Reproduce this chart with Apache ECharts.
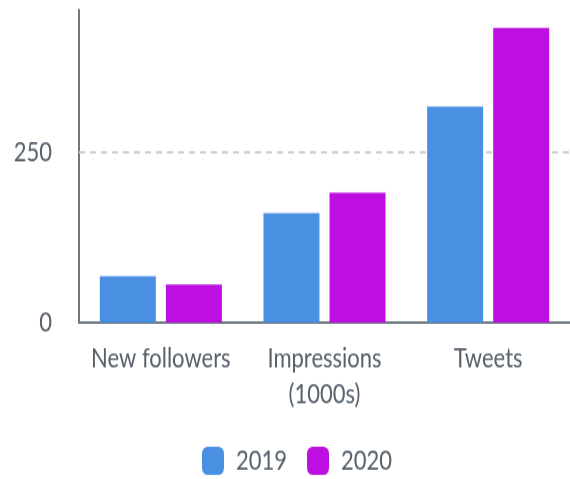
<!DOCTYPE html>
<html>
<head>
<meta charset="utf-8">
<script src="https://cdn.jsdelivr.net/npm/echarts@6/dist/echarts.min.js"></script>
<style>
html,body{margin:0;padding:0;background:#fff;}
body{width:570px;height:479px;}
#c{width:570px;height:374px;transform:scale(1,1.28);transform-origin:0 0;}
</style>
</head>
<body>
<div id="c"></div>
<script>
const categories = ['New followers', 'Impressions\n(1000s)', 'Tweets'];
const seriesNames = ['2019', '2020'];
const values2019 = [68, 160, 316];
const values2020 = [56, 190, 431];
const yTicks = [0, 250];

const textColor = '#56606b';
const axisColor = '#6e7880';
const chart = echarts.init(document.getElementById('c'), null, {renderer: 'canvas'});
chart.setOption({
  animation: false,
  color: ['#4A90E2', '#BD10E0'],
  textStyle: {fontFamily: 'Lato'},
  grid: {left: 79, right: 0, top: 7.8, bottom: 374 - 252.1, containLabel: false},
  legend: {
    show: true,
    data: seriesNames,
    left: 202, top: 349, padding: 0,
    itemWidth: 22, itemHeight: 22, itemGap: 20,
    icon: 'roundRect',
    textStyle: {color: textColor, fontSize: 22, fontFamily: 'Lato', padding: [0, 0, 0, 7]}
  },
  xAxis: {
    type: 'category',
    data: categories,
    axisLine: {lineStyle: {color: axisColor, width: 2}},
    axisTick: {show: false},
    axisLabel: {interval: 0, color: textColor, fontSize: 22, lineHeight: 28, margin: 14, fontFamily: 'Lato'}
  },
  yAxis: {
    type: 'value',
    min: 0, max: 457, interval: 250,
    axisLine: {show: true, lineStyle: {color: axisColor, width: 2}},
    axisTick: {show: false},
    axisLabel: {
      color: textColor, fontSize: 22, margin: 27, fontFamily: 'Lato', showMaxLabel: false,
      formatter: v => yTicks.indexOf(v) >= 0 ? String(v) : ''
    },
    splitLine: {show: false}
  },
  series: [
    {
      name: seriesNames[0], type: 'bar', data: values2019, barWidth: 56, barGap: '18%', z: 3
    },
    {name: seriesNames[1], type: 'bar', data: values2020, barWidth: 56, z: 3},
    {
      type: 'line', data: [], z: 1, silent: true,
      markLine: {
        z: 1, silent: true, symbol: 'none', label: {show: false},
        lineStyle: {color: '#cfcfcf', type: [6, 5], width: 2},
        data: yTicks.filter(v => v > 0).map(v => ({yAxis: v}))
      }
    }
  ]
});
</script>
</body>
</html>
